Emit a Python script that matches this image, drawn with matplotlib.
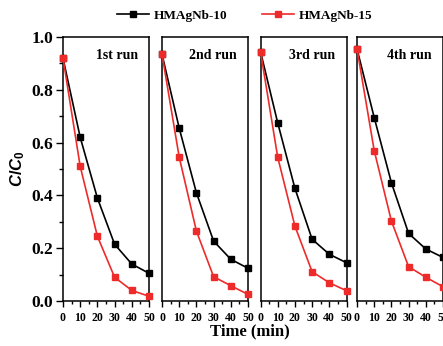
import numpy as np
import matplotlib
matplotlib.use('Agg')
import matplotlib.pyplot as plt
from matplotlib.ticker import MultipleLocator

plt.rcParams['font.family'] = 'Liberation Serif'
plt.rcParams['font.weight'] = 'bold'
plt.rcParams['mathtext.fontset'] = 'custom'
plt.rcParams['mathtext.it'] = 'Liberation Sans:italic:bold'
plt.rcParams['mathtext.rm'] = 'Liberation Sans:bold'

time = [0, 10, 20, 30, 40, 50]
runs = ['1st run', '2nd run', '3rd run', '4th run']

# HMAgNb-10, one list per run
nb10 = [
    [0.92, 0.62, 0.39, 0.215, 0.14, 0.105],
    [0.935, 0.655, 0.41, 0.227, 0.158, 0.124],
    [0.945, 0.675, 0.427, 0.234, 0.177, 0.145],
    [0.955, 0.695, 0.448, 0.256, 0.197, 0.165],
]
# HMAgNb-15
nb15 = [
    [0.92, 0.51, 0.245, 0.09, 0.04, 0.018],
    [0.935, 0.545, 0.265, 0.092, 0.058, 0.025],
    [0.945, 0.545, 0.284, 0.111, 0.069, 0.039],
    [0.955, 0.57, 0.303, 0.13, 0.09, 0.054],
]

W, H = 443, 346
fig = plt.figure(figsize=(W / 100, H / 100), dpi=100)

lefts = [63, 162, 260.5, 357]
pw = 86
bottom = 301
top = 37

for k in range(4):
    ax = fig.add_axes([lefts[k] / W, 1 - bottom / H, pw / W, (bottom - top) / H])
    l1, = ax.plot(time, nb10[k], '-s', color='black', ms=4.6, lw=1.2, clip_on=False, zorder=3)
    l2, = ax.plot(time, nb15[k], '-s', color='#ee2b2b', mec='#ee2b2b', ms=4.6, lw=1.2,
                  clip_on=False, zorder=3)
    ax.set_xlim(0, 50)
    ax.set_ylim(0, 1.0)
    ax.xaxis.set_major_locator(MultipleLocator(10))
    ax.xaxis.set_minor_locator(MultipleLocator(5))
    ax.tick_params(axis='x', which='major', length=4, width=1, labelsize=8.5, pad=4)
    ax.tick_params(axis='x', which='minor', length=2, width=1)
    for s in ax.spines.values():
        s.set_linewidth(1.1)
    if k == 0:
        ax.yaxis.set_major_locator(MultipleLocator(0.2))
        ax.yaxis.set_minor_locator(MultipleLocator(0.1))
        ax.tick_params(axis='y', which='major', length=5, width=1, labelsize=12.5, pad=2)
        ax.tick_params(axis='y', which='minor', length=3, width=1)
        ax.yaxis.set_major_formatter(matplotlib.ticker.FormatStrFormatter('%.1f'))
        ax.set_ylabel(r'$C/C_0$', fontsize=12, labelpad=3)
    else:
        ax.set_yticks([])
    ax.text(0.87, 0.93, runs[k], transform=ax.transAxes, ha='right', va='center',
            fontsize=10, fontweight='bold')
    for lab in ax.get_xticklabels() + ax.get_yticklabels():
        lab.set_fontweight('bold')

fig.legend([l1, l2], ['HMAgNb-10', 'HMAgNb-15'], loc='center', ncol=2,
           bbox_to_anchor=(245 / W, 1 - 16 / H), frameon=False, fontsize=9.5,
           handlelength=2.4, columnspacing=2.6, handletextpad=0.4)
fig.text(250 / W, 1 - 331 / H, 'Time (min)', ha='center', va='center',
         fontsize=12, fontweight='bold')

fig.savefig('out.png', dpi=100)
